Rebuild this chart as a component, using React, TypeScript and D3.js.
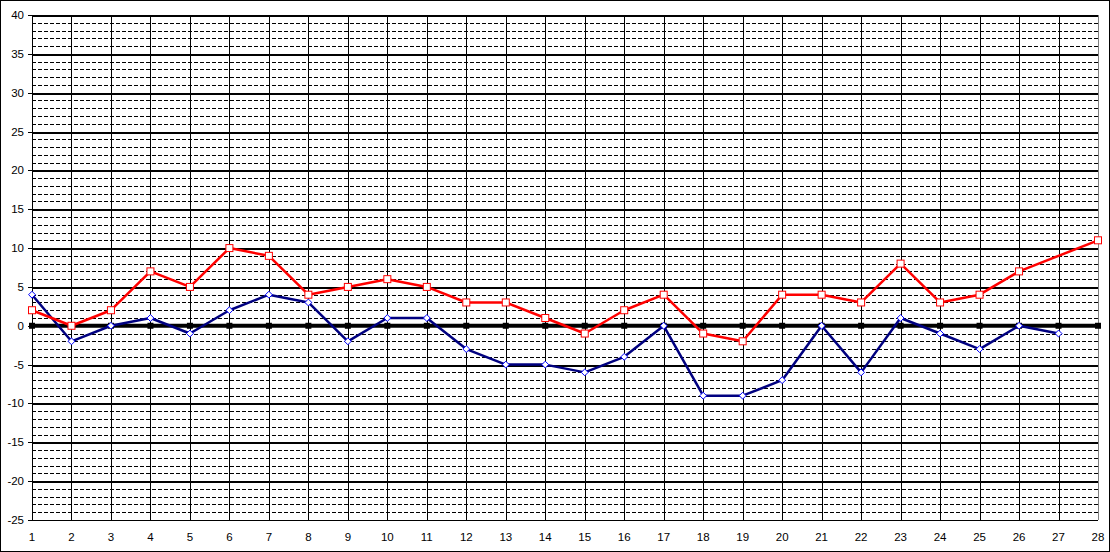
import React, { useEffect, useRef } from 'react';
import * as d3 from 'd3';

const days = d3.range(1, 29);
const redValues: (number | null)[] = [2, 0, 2, 7, 5, 10, 9, 4, 5, 6, 5, 3, 3, 1, -1, 2, 4, -1, -2, 4, 4, 3, 8, 3, 4, 7, null, 11];
const blueValues: (number | null)[] = [4, -2, 0, 1, -1, 2, 4, 3, -2, 1, 1, -3, -5, -5, -6, -4, 0, -9, -9, -7, 0, -6, 1, -1, -3, 0, -1, null];
const zeroValues: number[] = days.map(() => 0);
const yTicks = d3.range(-25, 41, 5);
const yMinor = d3.range(-25, 41, 1);

const W = 1110;
const H = 552;

const App: React.FC = () => {
    const svgRef = useRef<SVGSVGElement>(null);

    useEffect(() => {
        if (!svgRef.current) return;
        const svg = d3.select(svgRef.current);
        svg.selectAll('*').remove();

        const margin = { top: 15, right: 12, bottom: 32, left: 32 };
        const width = W - margin.left - margin.right;
        const height = H - margin.top - margin.bottom;

        const x = d3.scalePoint<number>().domain(days).range([0, width]);
        const y = d3.scaleLinear().domain([-25, 40]).range([height, 0]);

        svg.append('rect')
            .attr('x', 0.5).attr('y', 0.5)
            .attr('width', W - 1).attr('height', H - 1)
            .attr('fill', '#fff').attr('stroke', '#000');

        const g = svg.append('g').attr('transform', `translate(${margin.left},${margin.top})`);

        // minor dashed lines
        g.append('g').selectAll('line')
            .data(yMinor.filter(v => v % 5 !== 0))
            .join('line')
            .attr('x1', 0).attr('x2', width)
            .attr('y1', d => Math.round(y(d)) + 0.5).attr('y2', d => Math.round(y(d)) + 0.5)
            .attr('stroke', '#000').attr('stroke-width', 1)
            .attr('stroke-dasharray', '4 2');

        // vertical grid
        g.append('g').selectAll('line')
            .data(days)
            .join('line')
            .attr('x1', d => Math.round(x(d)!) + 0.5).attr('x2', d => Math.round(x(d)!) + 0.5)
            .attr('y1', 0).attr('y2', height)
            .attr('stroke', d => (d === 28 ? '#808080' : '#000')).attr('stroke-width', 1);

        // major lines
        g.append('g').selectAll('line')
            .data(yTicks.filter(v => v !== 0 && v !== -25))
            .join('line')
            .attr('x1', 0).attr('x2', width)
            .attr('y1', d => Math.round(y(d)) + 1).attr('y2', d => Math.round(y(d)) + 1)
            .attr('stroke', '#000').attr('stroke-width', 2);

        // axes lines
        g.append('line')
            .attr('x1', 0).attr('x2', width)
            .attr('y1', Math.round(height) + 0.5).attr('y2', Math.round(height) + 0.5)
            .attr('stroke', '#000');
        g.append('line')
            .attr('x1', 0.5).attr('x2', 0.5)
            .attr('y1', 0).attr('y2', height)
            .attr('stroke', '#000');

        // y ticks and labels
        const yAxis = g.append('g');
        yAxis.selectAll('line')
            .data(yTicks)
            .join('line')
            .attr('x1', -4).attr('x2', 0)
            .attr('y1', d => Math.round(y(d)) + 0.5).attr('y2', d => Math.round(y(d)) + 0.5)
            .attr('stroke', '#000');
        yAxis.selectAll('text')
            .data(yTicks)
            .join('text')
            .attr('x', -8)
            .attr('y', d => y(d) + 4)
            .attr('text-anchor', 'end')
            .style('font-family', '"Liberation Sans", Arial, sans-serif')
            .style('font-size', '11.5px')
            .text(d => String(d));

        // x labels
        g.append('g').selectAll('text')
            .data(days)
            .join('text')
            .attr('x', d => x(d)!)
            .attr('y', height + 21)
            .attr('text-anchor', 'middle')
            .style('font-family', '"Liberation Sans", Arial, sans-serif')
            .style('font-size', '11.5px')
            .text(d => String(d));

        // zero series
        const zeroLine = d3.line<number>()
            .x((_, i) => x(days[i])!)
            .y(d => y(d));
        g.append('path')
            .attr('d', zeroLine(zeroValues))
            .attr('fill', 'none').attr('stroke', '#000').attr('stroke-width', 4);
        g.append('g').selectAll('rect')
            .data(zeroValues)
            .join('rect')
            .attr('x', (_, i) => x(days[i])! - 3)
            .attr('y', d => y(d) - 3)
            .attr('width', 6).attr('height', 6)
            .attr('fill', '#000');

        type Pt = { day: number; v: number };
        const toPts = (vals: (number | null)[]): Pt[] =>
            vals.map((v, i) => ({ day: days[i], v })).filter(p => p.v !== null) as Pt[];

        const line = d3.line<Pt>().x(p => x(p.day)!).y(p => y(p.v));

        const bluePts = toPts(blueValues);
        g.append('path')
            .attr('d', line(bluePts))
            .attr('fill', 'none').attr('stroke', '#000080').attr('stroke-width', 2.5)
            .attr('stroke-linejoin', 'round');
        g.append('g').selectAll('path')
            .data(bluePts)
            .join('path')
            .attr('d', d3.symbol(d3.symbolDiamond2, 30)())
            .attr('transform', p => `translate(${x(p.day)},${y(p.v)})`)
            .attr('fill', '#fff').attr('stroke', '#0000ff').attr('stroke-width', 1);

        const redPts = toPts(redValues);
        g.append('path')
            .attr('d', line(redPts))
            .attr('fill', 'none').attr('stroke', '#ff0000').attr('stroke-width', 2.5)
            .attr('stroke-linejoin', 'round');
        g.append('g').selectAll('rect')
            .data(redPts)
            .join('rect')
            .attr('x', p => x(p.day)! - 3.5)
            .attr('y', p => y(p.v) - 3.5)
            .attr('width', 7).attr('height', 7)
            .attr('fill', '#fff').attr('stroke', '#ff0000').attr('stroke-width', 1);
    }, []);

    return (
        <svg ref={svgRef} width={W} height={H}
            style={{ position: 'absolute', left: 0, top: 0, display: 'block' }} />
    );
};

export default App;
